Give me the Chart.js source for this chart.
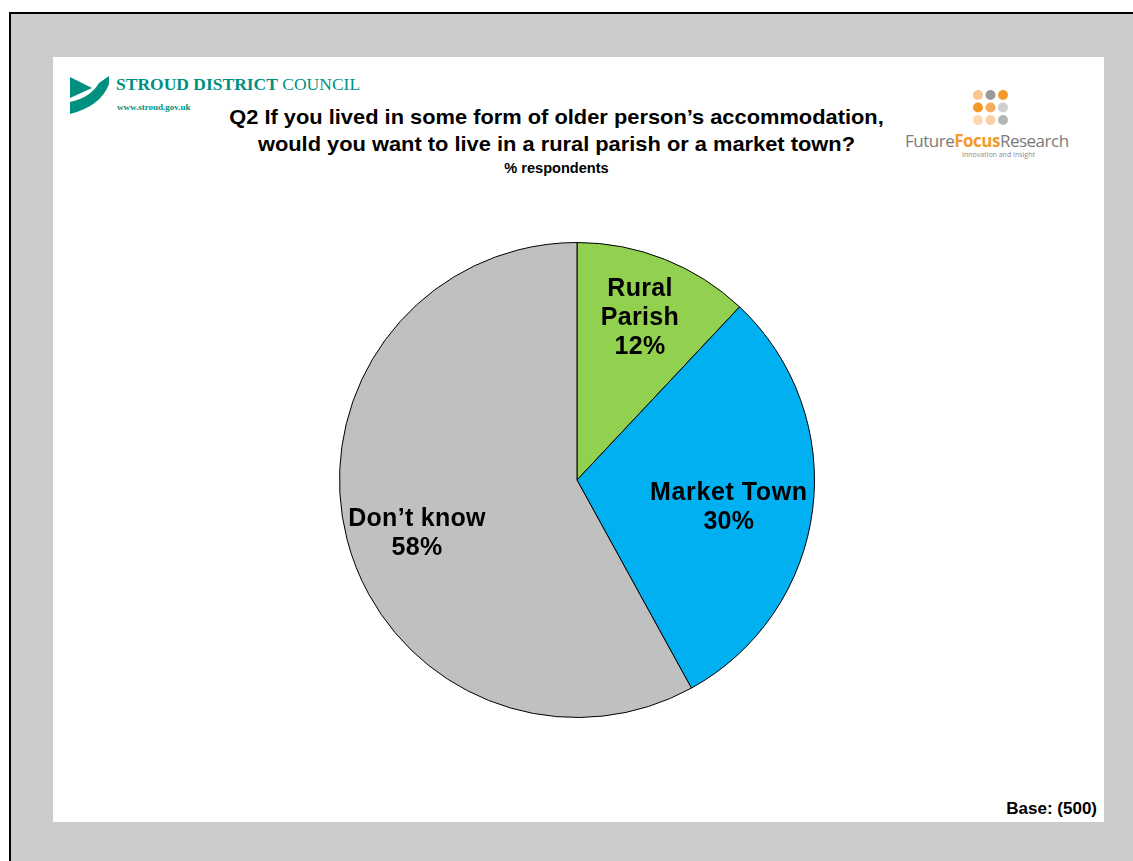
<!DOCTYPE html>
<html>
<head>
<meta charset="utf-8">
<script src="https://cdn.jsdelivr.net/npm/chart.js@4"></script>
<style>
  html, body { margin: 0; padding: 0; background: #fff; }
  body { width: 1133px; height: 861px; position: relative; overflow: hidden; font-family: "Liberation Sans", Arial, sans-serif; }
  .frame { position: absolute; left: 9px; top: 12px; right: 0; bottom: 0; background: #cccccc; border-left: 2px solid #000; border-top: 2px solid #000; }
  .panel { position: absolute; left: 53px; top: 57px; width: 1051px; height: 765px; background: #fff; }
  .abs { position: absolute; white-space: nowrap; }
  .title { left: 0; width: 1113px; text-align: center; font-weight: bold; color: #000; transform: scaleX(1.04); transform-origin: 557px 0; }
  #pieBox { position: absolute; left: 339px; top: 242px; width: 476px; height: 476px; }
</style>
</head>
<body>
<div class="frame"></div>
<div class="panel"></div>

<!-- Stroud District Council logo -->
<svg class="abs" style="left:68px;top:73px" width="44" height="43" viewBox="68 73 44 43">
  <path d="M70,77 L92,88 Q81,93 70,98 Z" fill="#00907f"/>
  <path d="M70,102 Q90,98 99,83 L109,76 L109,84 Q101,106 70,114 Z" fill="#00907f"/>
</svg>
<div class="abs" style="left:116px;top:74px;font-family:'Liberation Serif',serif;font-size:17.5px;color:#00907f">
  <span style="font-weight:bold">STROUD DISTRICT</span> <span style="font-weight:normal">COUNCIL</span>
</div>
<div class="abs" style="left:117px;top:102px;font-family:'Liberation Serif',serif;font-size:9px;font-weight:bold;color:#00907f">www.stroud.gov.uk</div>

<!-- Future Focus Research logo -->
<svg class="abs" style="left:970px;top:85px" width="44" height="44">
  <circle cx="8" cy="10" r="5" fill="#f9c58f"/>
  <circle cx="20.5" cy="10" r="5" fill="#9a9a9a"/>
  <circle cx="33" cy="10" r="5" fill="#f39a2b"/>
  <circle cx="8" cy="22.5" r="5" fill="#f39a2b"/>
  <circle cx="20.5" cy="22.5" r="5" fill="#f5ac5c"/>
  <circle cx="33" cy="22.5" r="5" fill="#cfcfcf"/>
  <circle cx="8" cy="35" r="5" fill="#fcd9b3"/>
  <circle cx="20.5" cy="35" r="5" fill="#fbd0a4"/>
  <circle cx="33" cy="35" r="5" fill="#b5b5b5"/>
</svg>
<div class="abs" style="left:905px;top:129px;font-family:'Open Sans',sans-serif;font-size:17px;color:#7a7a7a;letter-spacing:-0.5px">Future<span style="color:#f39a2b;font-weight:bold">Focus</span>Research</div>
<div class="abs" style="left:962px;top:150px;font-family:'Open Sans',sans-serif;font-size:7px;color:#8a8a8a">Innovation and Insight</div>

<!-- Titles -->
<div class="abs title" style="top:105px;font-size:21px">Q2 If you lived in some form of older person’s accommodation,</div>
<div class="abs title" style="top:132px;font-size:21px">would you want to live in a rural parish or a market town?</div>
<div class="abs title" style="top:160px;font-size:14px">% respondents</div>

<div class="abs" style="right:36px;top:799px;font-size:17px;font-weight:bold;color:#000">Base: (500)</div>

<div id="pieBox"><canvas id="pie" width="476" height="476"></canvas></div>

<script>
const categories = ['Rural Parish', 'Market Town', 'Don’t know'];
const percentages = [12, 30, 58];
const sliceColors = ['#92d050', '#00b0f0', '#c0c0c0'];

// draws the slice labels inside each arc
const sliceLabels = {
    id: 'sliceLabels',
    afterDatasetsDraw(chart, args, opts) {
        const ctx = chart.ctx;
        const meta = chart.getDatasetMeta(0);
        meta.data.forEach((arc, i) => {
            const p = arc.getProps(['x', 'y', 'startAngle', 'endAngle', 'outerRadius'], true);
            const ang = (p.startAngle + p.endAngle) / 2 + opts.nudge[i] * Math.PI / 180;
            const r = p.outerRadius * opts.dist[i];
            const cx = p.x + Math.cos(ang) * r;
            const cy = p.y + Math.sin(ang) * r;
            const name = categories[i];
            const lines = (opts.wrap[i] ? name.split(' ') : [name]).concat(percentages[i] + '%');
            ctx.save();
            ctx.font = 'bold 25px "Liberation Sans", Arial, sans-serif';
            ctx.fillStyle = '#000';
            ctx.textAlign = 'center';
            ctx.textBaseline = 'middle';
            const lh = 29;
            lines.forEach((t, k) => {
                ctx.letterSpacing = (i === 1 && k === 0) ? '0.6px' : '0.3px';
                ctx.fillText(t, cx, cy + (k - (lines.length - 1) / 2) * lh);
            });
            ctx.restore();
        });
    }
};

new Chart(document.getElementById('pie'), {
    type: 'pie',
    data: {
        labels: categories,
        datasets: [{
            data: percentages,
            backgroundColor: sliceColors,
            borderColor: '#000',
            borderWidth: 1
        }]
    },
    options: {
        responsive: false,
        animation: false,
        layout: { padding: 0 },
        plugins: {
            legend: { display: false },
            tooltip: { enabled: false },
            sliceLabels: {
                wrap: [true, false, false],
                dist: [0.73, 0.65, 0.71],
                nudge: [-0.3, 3.1, -4.0]
            }
        }
    },
    plugins: [sliceLabels]
});
</script>
</body>
</html>
